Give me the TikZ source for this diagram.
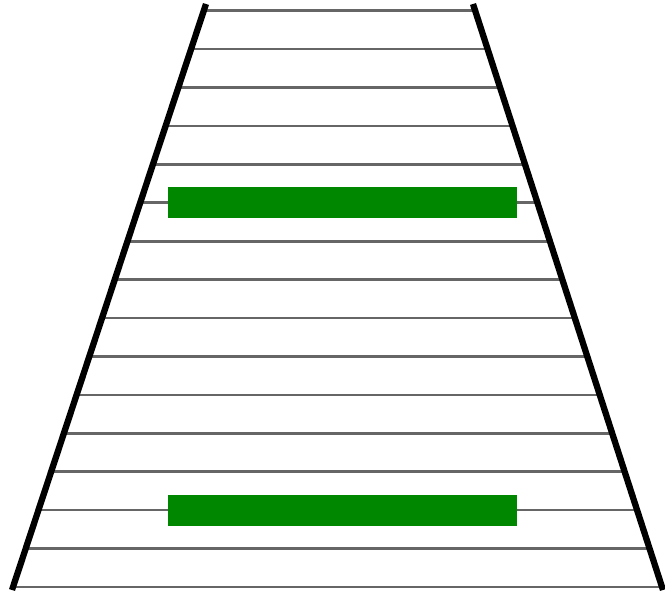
\documentclass[tikz,border=0pt]{standalone}
\usepackage{tikz}
\usetikzlibrary{calc}

\begin{document}
\begin{tikzpicture} [x = 1pt, y = -1pt]
                \useasboundingbox (0,0) rectangle (665,591);
                \coordinate (tl) at (206,4);
                \coordinate (bl) at (12,590);
                \coordinate (tr) at (473,4);
                \coordinate (br) at (663,590);
                \foreach \i in {0,...,15}
                  {
                    \pgfmathsetmacro{\rungy}{10.7 + 38.42*\i}
                    \pgfmathsetmacro{\rungt}{(\rungy - 4)/586}
                    \draw [black!60, line width = 2.6pt] ($(tl)!\rungt!(bl)$) -- ($(tr)!\rungt!(br)$);
                  }
                \fill [green!53!black] (168,187) rectangle (517,218);
                \fill [green!53!black] (168,494.5) rectangle (517,525.5);
                \draw [line width = 6.3pt] (tl) -- (bl) (tr) -- (br);
            \end{tikzpicture}
\end{document}
